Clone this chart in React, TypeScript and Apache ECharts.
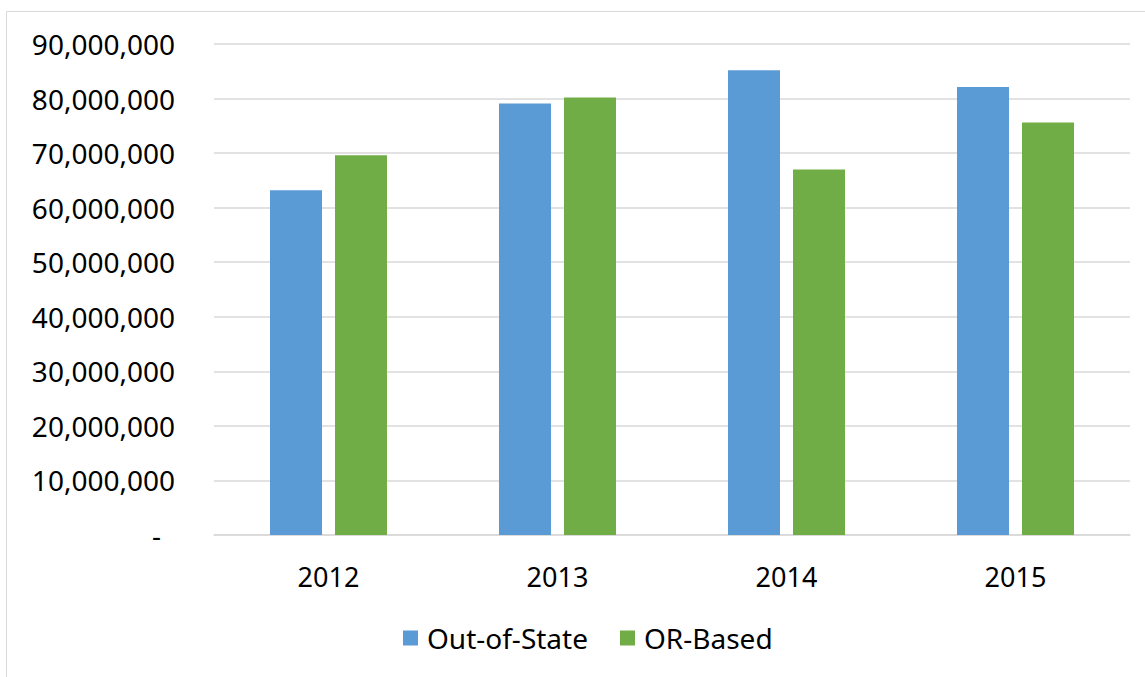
import React, { useEffect, useRef } from "react";
import * as echarts from "echarts";

const years = ["2012", "2013", "2014", "2015"];
const outOfState = [63200000, 79100000, 85200000, 82100000];
const orBased = [69600000, 80200000, 67000000, 75600000];
const seriesNames = ["Out-of-State", "OR-Based"];

const FONT = "'Noto Sans', 'Liberation Sans', sans-serif";

export default function App() {
  const ref = useRef<HTMLDivElement>(null);
  useEffect(() => {
    if (!ref.current) return;
    const chart = echarts.init(ref.current, undefined, { renderer: "svg" });
    chart.setOption({
      animation: false,
      backgroundColor: "#ffffff",
      graphic: [
        {
          type: "rect",
          shape: { x: 6.5, y: 11.5, width: 1200, height: 700 },
          style: { fill: "none", stroke: "#d9d9d9", lineWidth: 1 },
          silent: true,
        },
      ],
      grid: { left: 214, right: 15, top: 44, bottom: 142, containLabel: false },
      legend: {
        data: seriesNames,
        top: 619,
        left: 398,
        itemWidth: 15,
        itemHeight: 15,
        itemGap: 32,
        icon: "rect",
        textStyle: { fontFamily: FONT, fontSize: 28, color: "#000", padding: [0, 0, 0, 4] },
      },
      xAxis: {
        type: "category",
        data: years,
        axisLine: { show: true, lineStyle: { color: "#d9d9d9", width: 1.5 } },
        axisTick: { show: false },
        axisLabel: { fontFamily: FONT, fontSize: 27, color: "#000", margin: 28 },
      },
      yAxis: {
        type: "value",
        min: 0,
        max: 90000000,
        interval: 10000000,
        axisLine: { show: false },
        axisTick: { show: false },
        splitLine: { lineStyle: { color: "#d9d9d9", width: 1.5 } },
        axisLabel: {
          fontFamily: FONT,
          fontSize: 28,
          color: "#000",
          margin: 39,
          formatter: (v: number) =>
            v === 0 ? "{d|-}" : v.toLocaleString("en-US"),
          rich: { d: { fontFamily: FONT, fontSize: 28, color: "#000", padding: [0, 14, 0, 0] } },
        },
      },
      series: [
        {
          name: seriesNames[0],
          type: "bar",
          data: outOfState,
          barWidth: 52,
          barGap: "25%",
          itemStyle: { color: "#5B9BD5" },
        },
        {
          name: seriesNames[1],
          type: "bar",
          data: orBased,
          barWidth: 52,
          itemStyle: { color: "#70AD47" },
        },
      ],
    });
    return () => chart.dispose();
  }, []);
  return (
    <div
      ref={ref}
      style={{ position: "fixed", left: 0, top: 0, width: 1145, height: 677 }}
    />
  );
}
